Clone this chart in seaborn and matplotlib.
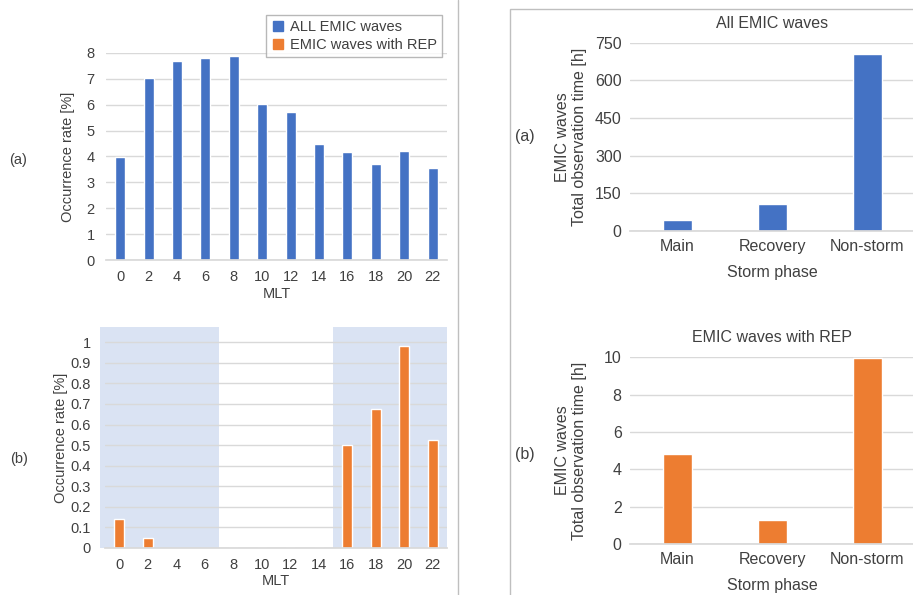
import numpy as np
import pandas as pd
import seaborn as sns
import matplotlib.pyplot as plt
from matplotlib.patches import Rectangle
from matplotlib.lines import Line2D

# dados
mlt = ['0', '2', '4', '6', '8', '10', '12', '14', '16', '18', '20', '22']
taxa_todas = [3.99, 7.02, 7.68, 7.82, 7.87, 6.03, 5.71, 4.50, 4.17, 3.70, 4.22, 3.56]
taxa_rep = [0.139, 0.048, 0, 0, 0, 0, 0, 0, 0.503, 0.676, 0.981, 0.524]
fases = ['Main', 'Recovery', 'Non-storm']
tempo_todas = [44, 108, 707]
tempo_rep = [4.80, 1.30, 9.98]

azul = '#4472c4'
laranja = '#ed7d31'
cinza_txt = '#404040'
cinza_grid = '#d9d9d9'

sns.set_theme(style='whitegrid')
plt.rcParams['font.family'] = ['Liberation Sans', 'DejaVu Sans']
plt.rcParams['font.size'] = 10

fig = plt.figure(figsize=(9.13, 5.95), dpi=100)

def estilo(ax, fs=10.5, ypad=6, xpad=6):
    ax.set_facecolor('none')
    for lado in ['left', 'right', 'top']:
        ax.spines[lado].set_visible(False)
    ax.spines['bottom'].set_color(cinza_grid)
    ax.grid(axis='y', color=cinza_grid, linewidth=1)
    ax.grid(axis='x', visible=False)
    ax.tick_params(length=0, labelsize=fs, colors=cinza_txt)
    ax.tick_params(axis='y', pad=ypad)
    ax.tick_params(axis='x', pad=xpad)
    ax.set_axisbelow(True)

# (a) esquerda
ax1 = fig.add_axes([0.116, 0.563, 0.3735, 0.348])
df1 = pd.DataFrame({'MLT': mlt, 'taxa': taxa_todas})
sns.barplot(data=df1, x='MLT', y='taxa', color=azul, saturation=1, width=0.35, ax=ax1)
estilo(ax1, 10.5, ypad=8, xpad=7)
ax1.set_ylim(0, 8)
ax1.set_yticks(range(0, 9))
ax1.set_xlim(-0.5, 11.5)
ax1.set_xlabel('MLT', color=cinza_txt, fontsize=10.5, labelpad=2)
ax1.set_ylabel('Occurrence rate [%]', color=cinza_txt, fontsize=10.5)
ax1.yaxis.set_label_coords(-0.091, 0.5)

# (b) esquerda
ax2 = fig.add_axes([0.115, 0.079, 0.3746, 0.371])
df2 = pd.DataFrame({'MLT': mlt, 'taxa': taxa_rep})
ax2.axvspan(-0.68, 3.5, color='#dae3f3', zorder=0, clip_on=False, linewidth=0)
ax2.axvspan(7.5, 11.5, color='#dae3f3', zorder=0, clip_on=False, linewidth=0)
sns.barplot(data=df2, x='MLT', y='taxa', color=laranja, saturation=1, width=0.35, ax=ax2)
estilo(ax2, 10.5, ypad=10, xpad=7)
ax2.set_ylim(0, 1.073)
ax2.set_yticks(np.arange(0, 1.01, 0.1))
ax2.set_yticklabels(['0', '0.1', '0.2', '0.3', '0.4', '0.5', '0.6', '0.7', '0.8', '0.9', '1'])
ax2.set_xlim(-0.5, 11.5)
ax2.set_xlabel('MLT', color=cinza_txt, fontsize=10.5, labelpad=2)
ax2.set_ylabel('Occurrence rate [%]', color=cinza_txt, fontsize=10.5)
ax2.yaxis.set_label_coords(-0.108, 0.5)

# (a) direita
ax3 = fig.add_axes([0.690, 0.612, 0.312, 0.316])
df3 = pd.DataFrame({'fase': fases, 'tempo': tempo_todas})
sns.barplot(data=df3, x='fase', y='tempo', color=azul, saturation=1, width=0.31, ax=ax3)
estilo(ax3, 11.5)
ax3.set_ylim(0, 750)
ax3.set_yticks(range(0, 751, 150))
ax3.set_xlim(-0.5, 2.5)
ax3.set_title('All EMIC waves', color=cinza_txt, fontsize=11.5, pad=11)
ax3.set_xlabel('Storm phase', color=cinza_txt, fontsize=11.5, labelpad=8)
ax3.set_ylabel('EMIC waves\nTotal observation time [h]', color=cinza_txt, fontsize=11.5)
ax3.yaxis.set_label_coords(-0.151, 0.5)

# (b) direita
ax4 = fig.add_axes([0.690, 0.0857, 0.312, 0.314])
df4 = pd.DataFrame({'fase': fases, 'tempo': tempo_rep})
sns.barplot(data=df4, x='fase', y='tempo', color=laranja, saturation=1, width=0.31, ax=ax4)
estilo(ax4, 11.5)
ax4.set_ylim(0, 10)
ax4.set_yticks(range(0, 11, 2))
ax4.set_xlim(-0.5, 2.5)
ax4.set_title('EMIC waves with REP', color=cinza_txt, fontsize=11.5, pad=11)
ax4.set_xlabel('Storm phase', color=cinza_txt, fontsize=11.5, labelpad=8)
ax4.set_ylabel('EMIC waves\nTotal observation time [h]', color=cinza_txt, fontsize=11.5)
ax4.yaxis.set_label_coords(-0.151, 0.5)

# rótulos (a)/(b)
fig.text(18 / 913, 1 - 160 / 595, '(a)', ha='center', va='center', fontsize=10.5, color=cinza_txt)
fig.text(19 / 913, 1 - 459 / 595, '(b)', ha='center', va='center', fontsize=10.5, color=cinza_txt)
fig.text(525 / 913, 1 - 137 / 595, '(a)', ha='center', va='center', fontsize=11.5, color=cinza_txt)
fig.text(525 / 913, 1 - 454 / 595, '(b)', ha='center', va='center', fontsize=11.5, color=cinza_txt)

# legenda
itens = [Line2D([], [], marker='s', linestyle='', color=azul, markersize=7),
         Line2D([], [], marker='s', linestyle='', color=laranja, markersize=7)]
leg = fig.legend(itens, ['ALL EMIC waves', 'EMIC waves with REP'], loc='upper right',
                 bbox_to_anchor=(0.492, 0.987), frameon=True, fancybox=False,
                 fontsize=10.5, handletextpad=0.3, borderpad=0.35, labelspacing=0.25,
                 handlelength=1.0)
leg.get_frame().set_edgecolor('#a6a6a6')
leg.get_frame().set_linewidth(1)
for t in leg.get_texts():
    t.set_color(cinza_txt)

# moldura e separador
fig.add_artist(Line2D([458 / 913, 458 / 913], [0, 1], color='#bfbfbf', linewidth=1))
fig.add_artist(Rectangle((510 / 913, -0.01), 0.5, 1 - 9 / 595 + 0.01, fill=False,
                         edgecolor='#bfbfbf', linewidth=1, transform=fig.transFigure))

fig.savefig('out.png', dpi=100)
